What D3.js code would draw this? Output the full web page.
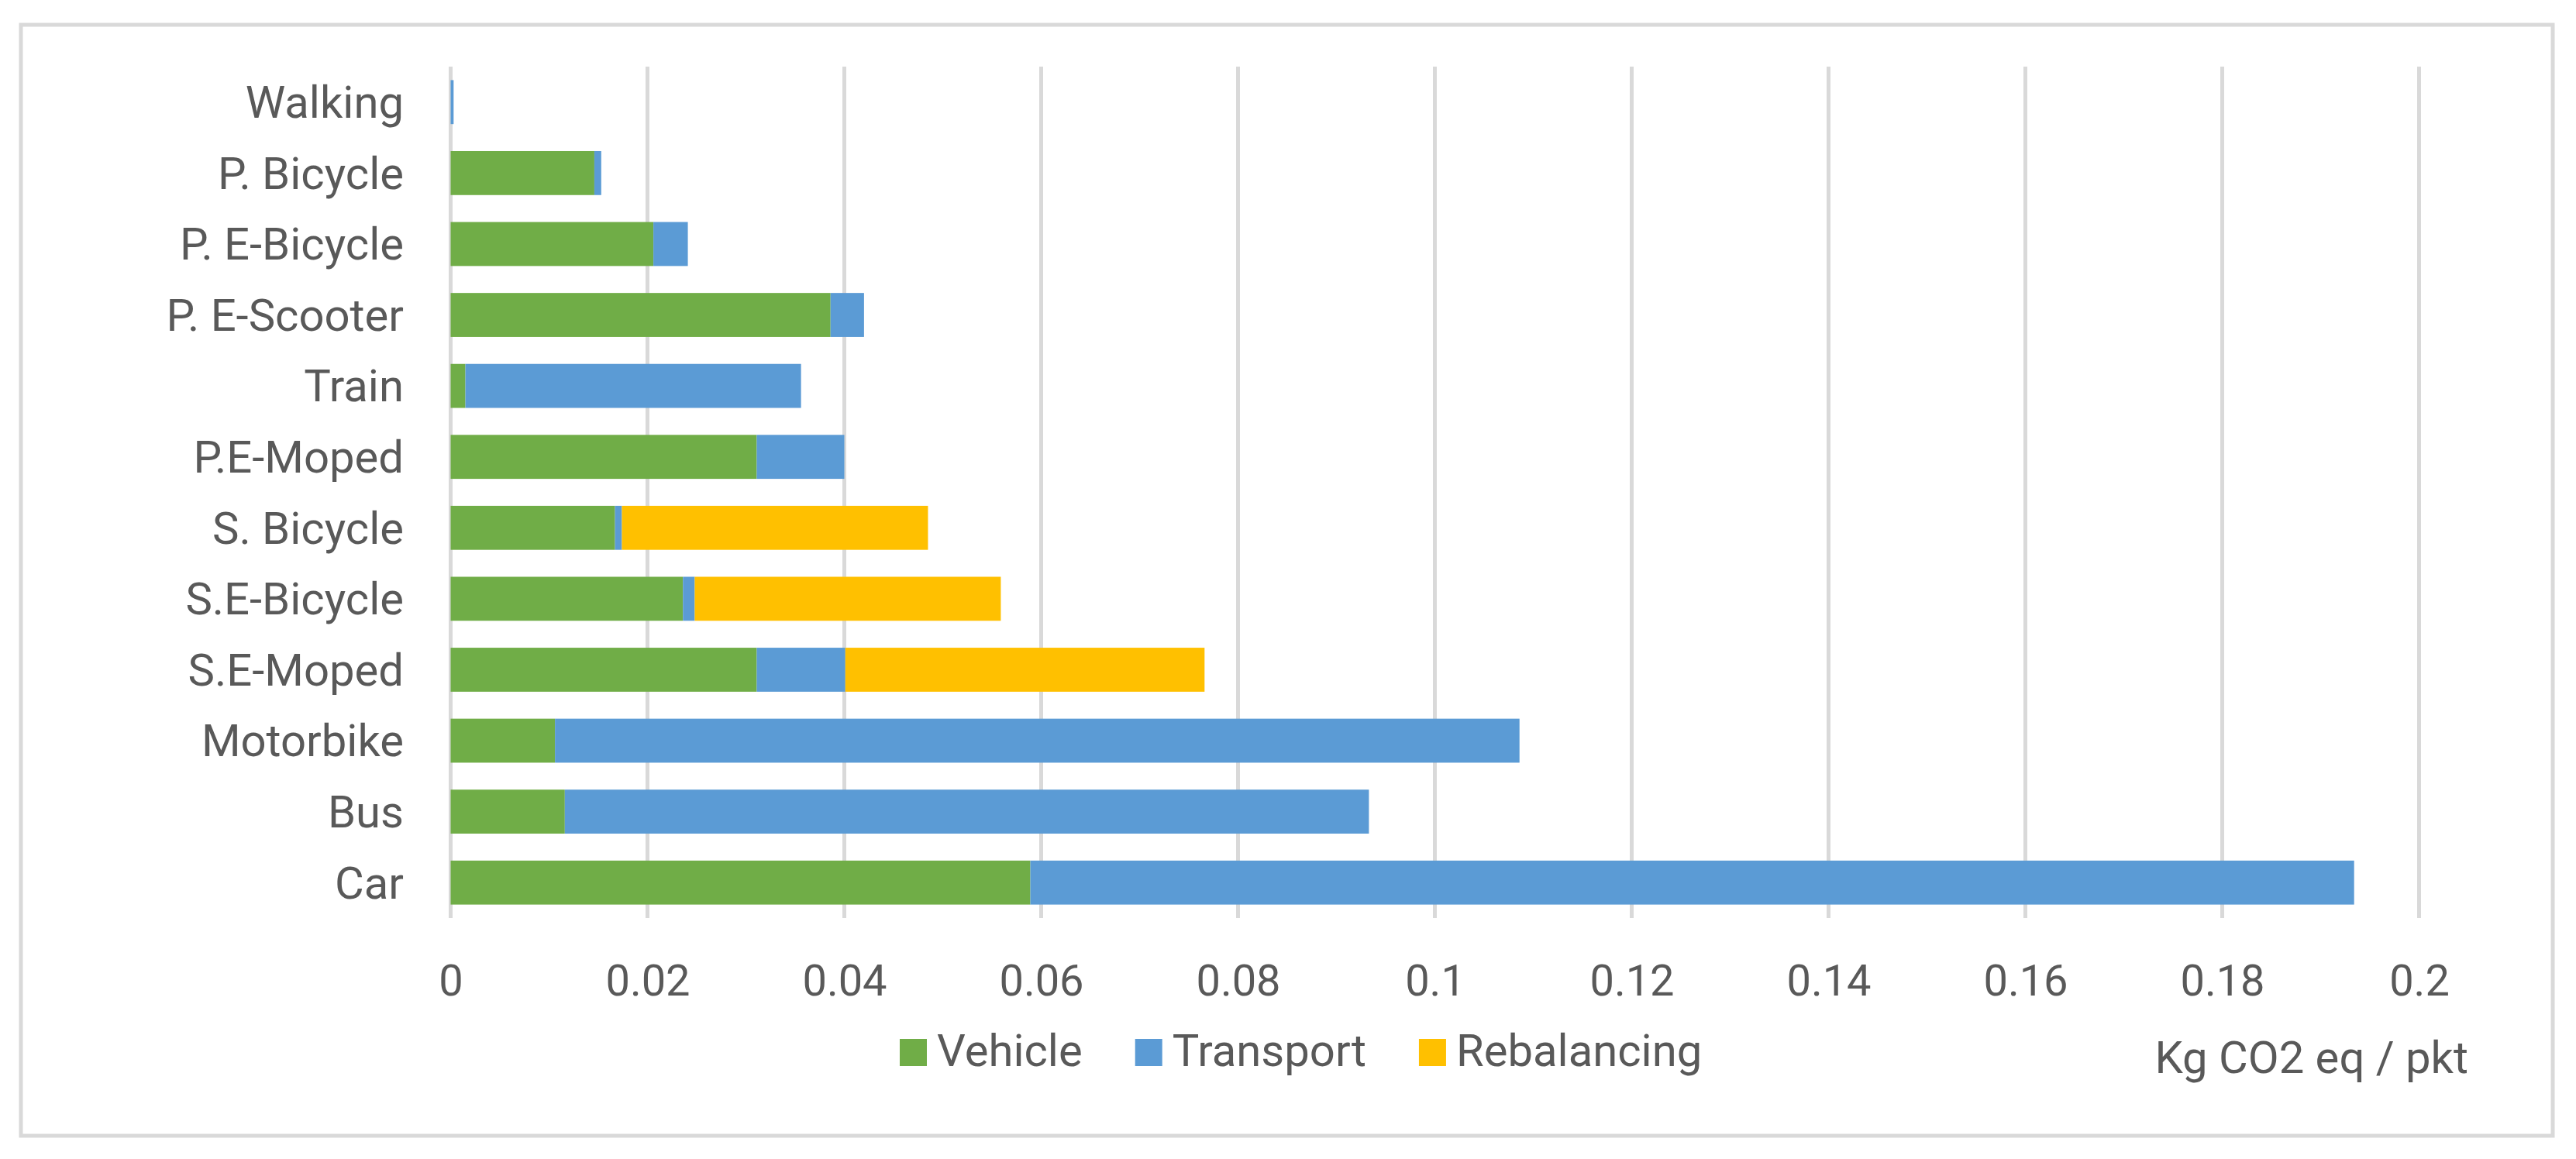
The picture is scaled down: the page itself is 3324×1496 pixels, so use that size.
<!DOCTYPE html>
<html>
<head>
<meta charset="utf-8">
<script src="https://cdn.jsdelivr.net/npm/d3@7"></script>
<style>
  body { margin: 0; background: #fff; }
  text { font-family: Roboto, "Liberation Sans", sans-serif; fill: #595959; }
</style>
</head>
<body>
<div id="chart"></div>
<script>
// chart data
var categories = ["Walking", "P. Bicycle", "P. E-Bicycle", "P. E-Scooter", "Train", "P.E-Moped",
                  "S. Bicycle", "S.E-Bicycle", "S.E-Moped", "Motorbike", "Bus", "Car"];
var vehicle     = [0, 0.0146, 0.0206, 0.0386, 0.0015, 0.0311, 0.0167, 0.0236, 0.0311, 0.0106, 0.0116, 0.0589];
var transport   = [0.0003, 0.0007, 0.0035, 0.0034, 0.0341, 0.0089, 0.0007, 0.0012, 0.0090, 0.0980, 0.0817, 0.1345];
var rebalancing = [0, 0, 0, 0, 0, 0, 0.0311, 0.0311, 0.0365, 0, 0, 0];
var seriesNames = ["Vehicle", "Transport", "Rebalancing"];
var xTicks = [0, 0.02, 0.04, 0.06, 0.08, 0.1, 0.12, 0.14, 0.16, 0.18, 0.2];
var axisTitle = "Kg CO2 eq / pkt";

var colors = ["#70ad47", "#5b9bd5", "#ffc000"];

var W = 3324, H = 1496;
var plot = { left: 581.5, right: 3121.5, top: 86, bottom: 1185 };

var svg = d3.select("#chart")
    .append("svg")
    .attr("width", W)
    .attr("height", H);

// chart frame
svg.append("rect")
    .attr("x", 27).attr("y", 32)
    .attr("width", 3267).attr("height", 1434)
    .attr("fill", "#fff")
    .attr("stroke", "#d9d9d9")
    .attr("stroke-width", 5);

var x = d3.scaleLinear()
    .domain([0, 0.2])
    .range([plot.left, plot.right]);

var y = d3.scaleBand()
    .domain(categories)
    .range([plot.top, plot.bottom])
    .paddingInner(0.38)
    .paddingOuter(0.19);

// gridlines
svg.append("g")
    .selectAll("line")
    .data(xTicks)
    .enter()
    .append("line")
    .attr("x1", d => x(d))
    .attr("x2", d => x(d))
    .attr("y1", plot.top)
    .attr("y2", plot.bottom)
    .attr("stroke", "#d9d9d9")
    .attr("stroke-width", 5);

// stacked bars
var rows = categories.map((c, i) => ({
    cat: c, Vehicle: vehicle[i], Transport: transport[i], Rebalancing: rebalancing[i]
}));
var stacked = d3.stack().keys(seriesNames)(rows);

svg.append("g")
    .selectAll("g")
    .data(stacked)
    .enter()
    .append("g")
    .attr("fill", (d, i) => colors[i])
    .selectAll("rect")
    .data(d => d)
    .enter()
    .append("rect")
    .attr("x", d => x(d[0]))
    .attr("y", d => y(d.data.cat))
    .attr("width", d => x(d[1]) - x(d[0]))
    .attr("height", y.bandwidth());

// x axis labels
var xAxis = svg.append("g")
    .attr("transform", "translate(0,1285)")
    .call(d3.axisBottom(x).tickValues(xTicks).tickSize(0).tickFormat(d => String(+d.toFixed(2))));
xAxis.select(".domain").remove();
xAxis.selectAll("text")
    .attr("y", 0).attr("dy", 0)
    .attr("font-size", 56)
    .style("font-family", null);

// category labels
var yAxis = svg.append("g")
    .attr("transform", "translate(521,0)")
    .call(d3.axisLeft(y).tickSize(0).tickPadding(0));
yAxis.select(".domain").remove();
yAxis.selectAll("text")
    .attr("dy", "0.35em")
    .attr("font-size", 58)
    .style("font-family", null);
svg.selectAll(".tick text").attr("fill", null);

// legend
var legend = svg.append("g");
var lx = 1161;
seriesNames.forEach((name, i) => {
    legend.append("rect")
        .attr("x", lx).attr("y", 1341)
        .attr("width", 35).attr("height", 35)
        .attr("fill", colors[i]);
    var t = legend.append("text")
        .attr("x", lx + 48)
        .attr("y", 1376)
        .attr("font-size", 58)
        .text(name);
    lx += 48 + t.node().getComputedTextLength() + 68;
});

// axis title
svg.append("text")
    .attr("x", 3185)
    .attr("y", 1385)
    .attr("text-anchor", "end")
    .attr("font-size", 58)
    .text(axisTitle);
</script>
</body>
</html>
